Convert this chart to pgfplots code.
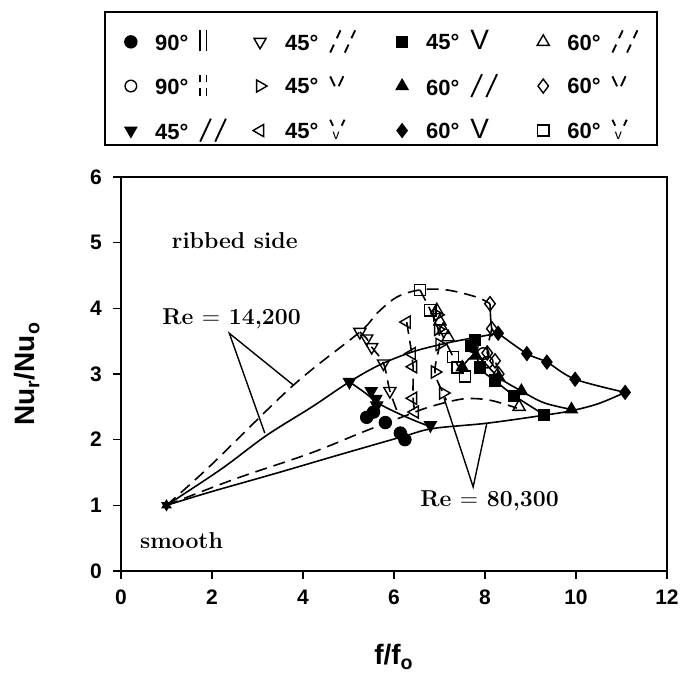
\documentclass[border=0pt]{standalone}
\usepackage{fontspec}
\usepackage{graphicx}
\usepackage{pgfplots}
\pgfplotsset{compat=1.18}
\newfontfamily\hv{Liberation Sans}

% rib arrangement glyphs
\newcommand{\ribbar}{\rule[-0.05em]{0.085em}{0.95em}}
\newcommand{\ribpar}{\ribbar\hspace{0.2em}\ribbar}
\newcommand{\brkbar}{\rlap{\raisebox{0.55em}{\rule{0.085em}{0.35em}}}\rule[-0.05em]{0.085em}{0.35em}}
\newcommand{\ribbrk}{\brkbar\hspace{0.2em}\brkbar}
\newcommand{\ribsl}{\raisebox{-0.1em}{\rotatebox{65}{\rule{1.15em}{0.085em}}}}
\newcommand{\ribss}{\ribsl\hspace{0.12em}\ribsl}
\newcommand{\bsl}{\rlap{\hspace{0.3em}\raisebox{0.55em}{\rotatebox{65}{\rule{0.4em}{0.085em}}}}\raisebox{-0.1em}{\rotatebox{65}{\rule{0.4em}{0.085em}}}\hspace{0.3em}}
\newcommand{\ribbs}{\bsl\hspace{0.12em}\bsl}
\newcommand{\ribV}{{\mdseries\fontsize{14}{14}\selectfont V}}
\newcommand{\ribvv}{\raisebox{0.75em}{\rotatebox{-65}{\rule{0.5em}{0.085em}}}\hspace{0.1em}\raisebox{0.3em}{\rotatebox{65}{\rule{0.5em}{0.085em}}}}
\newcommand{\ribbv}{\rlap{\raisebox{0.85em}{\rotatebox{-65}{\rule{0.3em}{0.085em}}}\hspace{0.32em}\raisebox{0.58em}{\rotatebox{65}{\rule{0.3em}{0.085em}}}}\hspace{0.15em}\raisebox{-0.02em}{{\mdseries\fontsize{7}{7}\selectfont v}}\hspace{0.15em}}
% key entry of fixed width
\newcommand{\key}[3]{\makebox[#1][l]{#2\hspace{0.5em}#3}}

\pgfplotsset{
  open/.style={only marks, mark options={fill=white, line width=0.7pt, rotate=#1}},
  open/.default=0,
  filled/.style={only marks, mark options={fill=black, line width=0.5pt, rotate=#1}},
  filled/.default=0,
  curve/.style={no markers, smooth, tension=0.55, line width=0.8pt, black, forget plot},
  dcurve/.style={curve, dash pattern=on 6pt off 3.5pt},
}

\begin{document}
\begin{tikzpicture}
\begin{axis}[
  scale only axis, width=273pt, height=197pt,
  at={(0,0)}, anchor=south west,
  xmin=0, xmax=12, ymin=0, ymax=6,
  xtick={0,2,...,12}, ytick={0,1,...,6},
  tick pos=left, tick align=outside, major tick length=4pt,
  axis line style={line width=1.2pt},
  tick style={line width=0.8pt, black},
  /pgf/number format/assume math mode=true,
  ticklabel style={font=\hv\bfseries\fontsize{10.5}{12}\selectfont},
  xticklabel style={yshift=-2pt},
  yticklabel style={xshift=-2pt},
  xlabel={f/f\textsubscript{o}}, ylabel={Nu\textsubscript{r}/Nu\textsubscript{o}},
  label style={font=\hv\bfseries\fontsize{14}{16}\selectfont},
  xlabel style={at={(axis description cs:0.5,-0.218)}, anchor=center},
  ylabel style={at={(axis description cs:-0.172,0.5)}, anchor=center},
  clip=false,
  mark size=3.5pt,
  legend columns=4,
  legend cell align=left,
  legend image code/.code={\draw[mark repeat=2,mark phase=2,#1] plot coordinates {(-0.1cm,0cm) (0cm,0cm) (0.1cm,0cm)};},
  legend style={draw=none, fill=none, at={(axis description cs:0.489,1.230)}, anchor=center,
    font=\hv\bfseries\fontsize{11}{13}\selectfont,
    /tikz/every odd column/.append style={column sep=7pt},
    /tikz/every even column/.append style={column sep=0pt},
    row sep=6pt},
]
% envelope curves
\addplot[curve] coordinates {(1,1) (2.2,1.55) (3.19,2.06) (4.2,2.5) (5.02,2.88) (5.69,3.14) (6.42,3.34) (7.16,3.47) (7.74,3.55) (8.29,3.62)};
\addplot[curve] coordinates {(8.29,3.62) (8.92,3.31) (9.36,3.18) (9.98,2.92) (11.08,2.72)};
\addplot[curve] coordinates {(11.08,2.72) (10.5,2.55) (9.9,2.44) (9.28,2.37) (8.04,2.25) (6.86,2.17) (6.21,2.05) (4.8,1.77) (3.42,1.49) (2.0,1.21) (1,1)};
\addplot[curve] coordinates {(5.02,2.88) (5.35,2.72) (5.67,2.55) (6.0,2.43) (6.42,2.3) (6.86,2.18)};
\addplot[curve] coordinates {(7.78,3.52) (7.89,3.1) (8.22,2.9) (8.64,2.67) (9.3,2.38)};
\addplot[curve] coordinates {(7.5,3.1) (7.8,3.28) (8.3,2.95) (8.8,2.74) (9.3,2.56) (9.9,2.46)};
\addplot[curve, smooth=false] coordinates {(8.11,4.07) (8.15,3.69) (8.29,3.62)};
\addplot[dcurve] coordinates {(1,1) (1.96,1.6) (3.79,2.83) (5.25,3.64) (5.62,3.92) (6.06,4.17) (6.57,4.28) (7.16,4.28) (7.82,4.17) (8.11,4.07)};
\addplot[dcurve] coordinates {(1,1) (2.5,1.4) (4.15,1.79) (5.33,2.12) (6.2,2.35) (6.79,2.5) (7.52,2.62) (8.11,2.6) (8.7,2.48)};
\addplot[dcurve] coordinates {(5.25,3.64) (5.40,3.54) (5.51,3.41) (5.77,3.16) (5.91,2.74) (6.1,2.38)};
\addplot[dcurve] coordinates {(6.28,3.79) (6.39,3.31) (6.42,3.11) (6.42,2.63) (6.46,2.42)};
\addplot[dcurve] coordinates {(6.57,4.28) (6.8,3.97) (6.97,3.68) (7.0,3.45) (6.9,3.03) (7.08,2.71) (7.15,2.6)};
\addplot[dcurve] coordinates {(8.15,3.69) (8.05,3.32) (8.22,3.2) (8.3,3.0)};
\addplot[dcurve] coordinates {(6.8,3.97) (7.3,3.26) (7.56,2.96)};

% data, row 1 of the key
\addplot[filled, mark=*, mark size=3.1pt] coordinates {(5.40,2.34) (5.55,2.42) (5.81,2.26) (6.14,2.1) (6.24,2.0)};
\addlegendentry{\key{47pt}{90°}{\ribpar}}
\addplot[open=180, mark=triangle] coordinates {(5.25,3.64) (5.40,3.54) (5.51,3.41) (5.77,3.16) (5.91,2.74)};
\addlegendentry{\key{53.5pt}{45°}{\ribbs}}
\addplot[filled, mark=square*, mark size=2.8pt] coordinates {(7.7,3.42) (7.78,3.52) (7.89,3.1) (8.22,2.9) (8.64,2.67) (9.3,2.38)};
\addlegendentry{\key{53.5pt}{45°}{\ribV}}
\addplot[open, mark=triangle] coordinates {(6.94,3.97) (7.01,3.8) (7.08,3.67) (7.19,3.56) (8.75,2.5)};
\addlegendentry{\key{40pt}{60°}{\ribbs}}
% row 2
\addplot[open, mark=o, mark size=2.9pt] coordinates {(7.72,3.42) (7.96,3.31) (8.05,3.18)};
\addlegendentry{\key{47pt}{90°}{\ribbrk}}
\addplot[open=-90, mark=triangle] coordinates {(6.95,3.9) (6.97,3.68) (7.0,3.45) (6.9,3.03) (7.08,2.71)};
\addlegendentry{\key{53.5pt}{45°}{\ribvv}}
\addplot[filled, mark=triangle*] coordinates {(7.5,3.1) (7.8,3.28) (8.3,2.95) (8.8,2.74) (9.9,2.46)};
\addlegendentry{\key{53.5pt}{60°}{\ribss}}
\addplot[open, mark=diamond] coordinates {(8.11,4.07) (8.15,3.69) (8.05,3.32) (8.22,3.2) (8.3,3.0)};
\addlegendentry{\key{40pt}{60°}{\ribvv}}
% row 3
\addplot[filled=180, mark=triangle*] coordinates {(5.02,2.88) (5.5,2.74) (5.6,2.62) (5.62,2.52) (6.8,2.22)};
\addlegendentry{\key{47pt}{45°}{\ribss}}
\addplot[open=90, mark=triangle] coordinates {(6.28,3.79) (6.39,3.31) (6.42,3.11) (6.42,2.63) (6.46,2.42)};
\addlegendentry{\key{53.5pt}{45°}{\ribbv}}
\addplot[filled, mark=diamond*] coordinates {(8.29,3.62) (8.92,3.31) (9.36,3.18) (9.98,2.92) (11.08,2.72)};
\addlegendentry{\key{53.5pt}{60°}{\ribV}}
\addplot[open, mark=square, mark size=2.8pt] coordinates {(6.57,4.28) (6.8,3.97) (7.3,3.26) (7.4,3.1) (7.56,2.96)};
\addlegendentry{\key{40pt}{60°}{\ribbv}}

% smooth-channel reference point
\addplot[filled, mark=triangle*, mark size=2.6pt, forget plot] coordinates {(1,1)};
\addplot[filled=180, mark=triangle*, mark size=2.6pt, forget plot] coordinates {(1,1)};

% annotations
\begin{scope}[font=\bfseries\fontsize{11.5}{13}\selectfont]
\node at (axis cs:2.5,5.03) {ribbed side};
\node at (axis cs:2.43,3.84) {Re $=$ 14,200};
\node at (axis cs:8.10,1.07) {Re $=$ 80,300};
\node at (axis cs:1.33,0.46) {smooth};
\end{scope}
\draw[line width=0.7pt] (axis cs:3.79,2.83) -- (axis cs:2.38,3.62) -- (axis cs:3.16,2.10);
\draw[line width=0.7pt] (axis cs:7.10,2.63) -- (axis cs:7.74,1.28) -- (axis cs:8.04,2.25);

% key frame and page extent
\draw[line width=1pt] (axis description cs:-0.0293,1.081) rectangle (axis description cs:0.9817,1.4175);
\path (axis description cs:-0.2216,-0.2437) rectangle (axis description cs:1.0348,1.4492);
\end{axis}
\end{tikzpicture}
\end{document}
